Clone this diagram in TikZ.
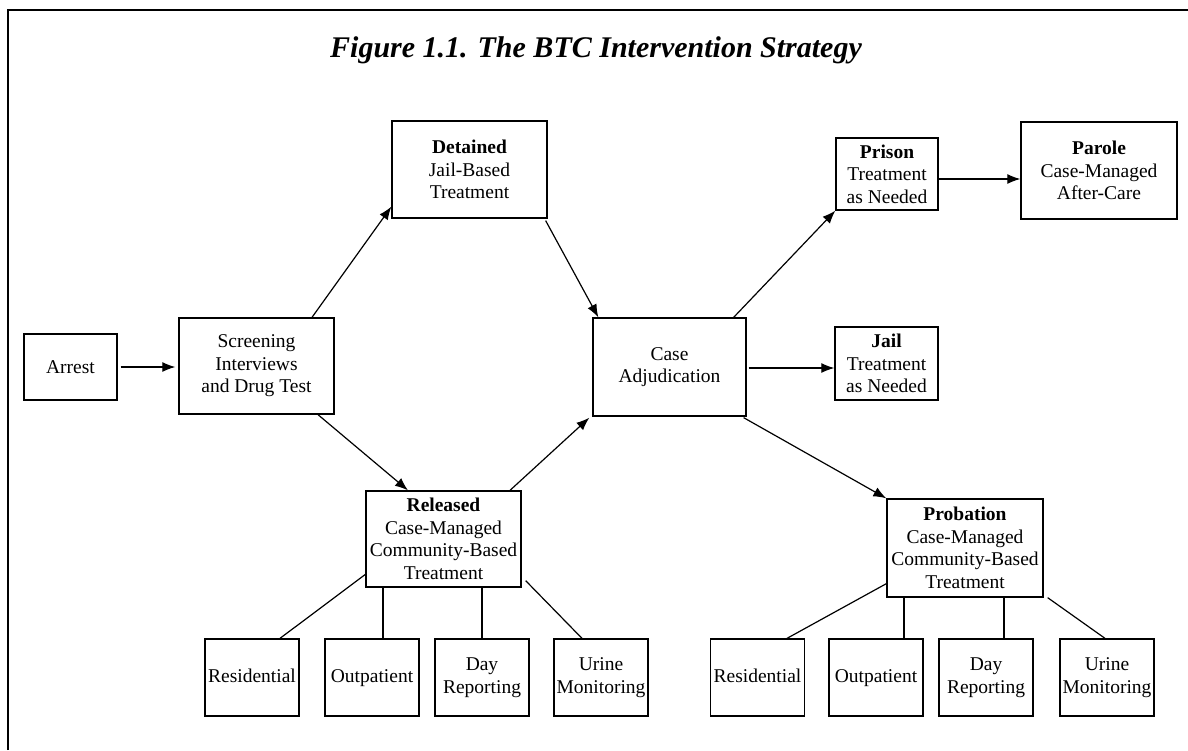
\documentclass[tikz,border=0pt]{standalone}
\usepackage{fontspec}
\setmainfont{Liberation Serif}
\usetikzlibrary{arrows.meta}
\begin{document}
\begin{tikzpicture}[x=1pt,y=-1pt,
  box/.style={draw,line width=1.3pt,inner sep=0pt,align=center,font=\fontsize{19.5}{22.5}\selectfont},
  arr/.style={line width=1.2pt,-{Latex[length=13pt,width=10pt]}},
  ln/.style={line width=1.2pt}]
\useasboundingbox (0,0) rectangle (1188,750);
\draw[line width=1.5pt] (8,750) -- (8,10) -- (1188,10);
\node[anchor=base,font=\fontsize{30}{34}\selectfont\bfseries\itshape] (title) at (596,57) {Figure 1.1. The BTC Intervention Strategy};
% main nodes
\node[box,minimum width=93pt,minimum height=66pt] (arrest) at (70.5,367) {Arrest};
\node[box,minimum width=155pt,minimum height=96pt] (screen) at (256.5,366) {Screening\\Interviews\\and Drug Test};
\node[box,minimum width=155pt,minimum height=97pt] (detained) at (469.5,169.5) {\textbf{Detained}\\Jail-Based\\Treatment};
\node[box,minimum width=155pt,minimum height=96pt] (released) at (443.5,539) {\textbf{Released}\\Case-Managed\\Community-Based\\Treatment};
\node[box,minimum width=153pt,minimum height=98pt] (case) at (669.5,367) {Case\\Adjudication};
\node[box,minimum width=103pt,minimum height=73pt] (jail) at (886.5,363.5) {\textbf{Jail}\\Treatment\\as Needed};
\node[box,minimum width=102pt,minimum height=72pt] (prison) at (887,174) {\textbf{Prison}\\Treatment\\as Needed};
\node[box,minimum width=156pt,minimum height=97pt] (parole) at (1099,170.5) {\textbf{Parole}\\Case-Managed\\After-Care};
\node[box,minimum width=156pt,minimum height=98pt] (probation) at (965,548) {\textbf{Probation}\\Case-Managed\\Community-Based\\Treatment};
% bottom boxes left
\node[box,minimum width=94pt,minimum height=77pt] (res1) at (252,677.5) {\strut Residential};
\node[box,minimum width=94pt,minimum height=77pt] (out1) at (372,677.5) {\strut Outpatient};
\node[box,minimum width=94pt,minimum height=77pt] (day1) at (482,677.5) {Day\\Reporting};
\node[box,minimum width=94pt,minimum height=77pt] (uri1) at (601,677.5) {Urine\\Monitoring};
% bottom boxes right
\node[box,minimum width=94pt,minimum height=77pt] (res2) at (757.5,677.5) {\strut Residential};
\node[box,minimum width=94pt,minimum height=77pt] (out2) at (876,677.5) {\strut Outpatient};
\node[box,minimum width=94pt,minimum height=77pt] (day2) at (986,677.5) {Day\\Reporting};
\node[box,minimum width=94pt,minimum height=77pt] (uri2) at (1107,677.5) {Urine\\Monitoring};
% arrows
\draw[arr,shorten <=3pt,shorten >=3pt] (arrest.east) -- (arrest.east -| screen.west);
\draw[arr] ([xshift=55.5pt]screen.north) -- ([yshift=12pt]detained.south west);
\draw[arr] ([xshift=-2pt,yshift=-2pt]detained.south east) -- ([xshift=6pt]case.north west);
\draw[arr] ([xshift=61.5pt]screen.south) -- ([xshift=-35.5pt]released.north);
\draw[arr] ([xshift=66.5pt]released.north) -- ([xshift=-3pt,yshift=-1pt]case.south west);
\draw[arr] ([xshift=-13pt]case.north east) -- (prison.south west);
\draw[arr,shorten <=2pt] ([yshift=-1pt]case.east) -- ([yshift=-1pt]case.east -| jail.west);
\draw[arr] ([yshift=-5pt]prison.east) -- ([yshift=-5pt]prison.east -| parole.west);
\draw[arr] ([xshift=-3pt,yshift=-1pt]case.south east) -- (probation.north west);
% released branches
\draw[ln] ([xshift=1pt,yshift=14pt]released.south west) -- ([xshift=28pt]res1.north);
\draw[ln] ([xshift=11pt]out1.north |- released.south) -- ([xshift=11pt]out1.north);
\draw[ln] (day1.north |- released.south) -- (day1.north);
\draw[ln] ([xshift=4pt,yshift=7pt]released.south east) -- ([xshift=-19pt]uri1.north);
% probation branches
\draw[ln] ([yshift=14pt]probation.south west) -- ([xshift=29.5pt]res2.north);
\draw[ln] ([xshift=28pt]out2.north |- probation.south) -- ([xshift=28pt]out2.north);
\draw[ln] ([xshift=18pt]day2.north |- probation.south) -- ([xshift=18pt]day2.north);
\draw[ln] ([xshift=4pt]probation.south east) -- ([xshift=-2pt]uri2.north);
\end{tikzpicture}
\end{document}
